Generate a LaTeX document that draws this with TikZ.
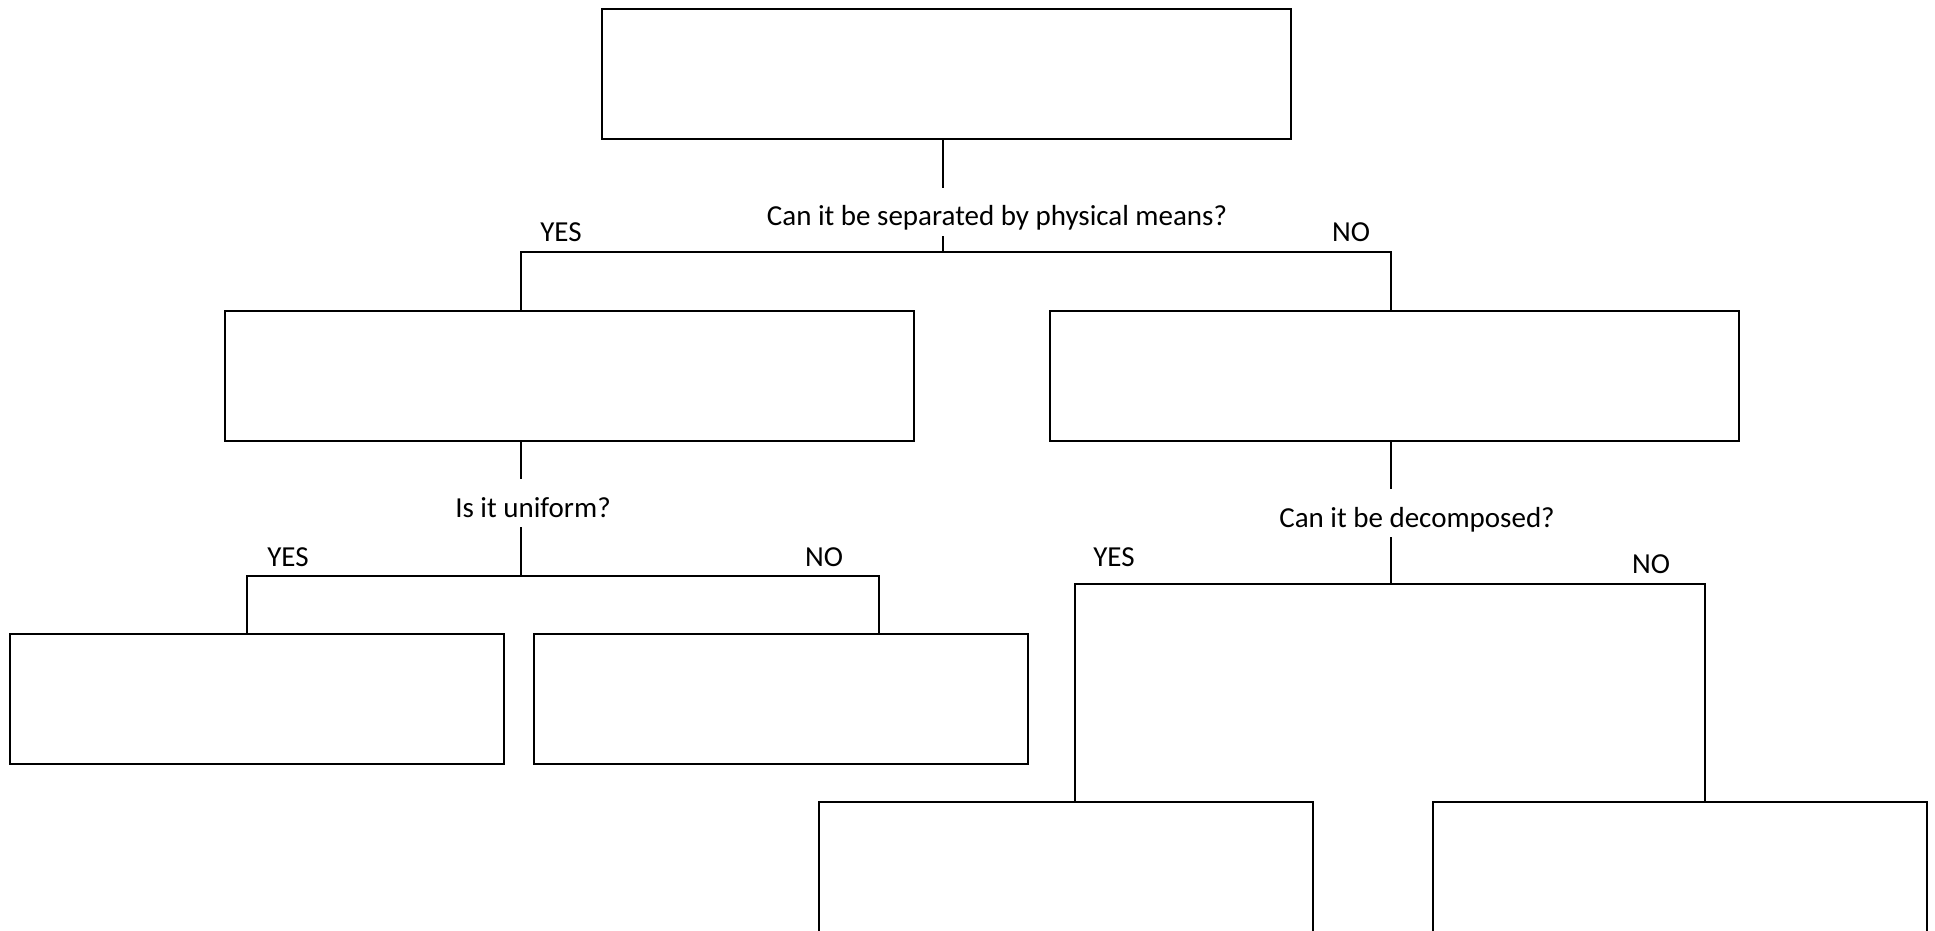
\documentclass[tikz,border=0pt]{standalone}
\usepackage{fontspec}
\setmainfont{Carlito}
\usepackage{tikz}
\usetikzlibrary{calc}

\begin{document}
\begin{tikzpicture}[x=0.5pt, y=-0.5pt,
    box/.style={draw, line width=1pt, minimum height=65pt, inner sep=0pt},
    wide/.style={box, minimum width=344.5pt},
    narrow/.style={box, minimum width=247pt},
    question/.style={inner xsep=2pt, inner ysep=5pt, text height=14pt, text depth=0pt,
        font=\fontsize{14.5}{17}\selectfont},
    answer/.style={inner sep=1pt, font=\fontsize{14.5}{17}\selectfont},
    conn/.style={line width=0.75pt}]

    \useasboundingbox (0,0) rectangle (1935,931);

    % Draw the empty boxes
    \node[wide] (top) at (946.5,74.5) {};
    \node[wide] (mixture) at (569.5,376) {};
    \node[wide] (pure) at (1394,376) {};
    \node[narrow] (homog) at (256.5,699) {};
    \node[narrow] (heterog) at (781,699) {};
    \node[narrow, minimum height=75pt] (compound) at (1066,877) {};
    \node[narrow, minimum height=75pt] (element) at (1679.5,877) {};

    % Draw the questions
    \node[question] (q1) at (997,212) {Can it be separated by physical means?};
    \node[question] (q2) at (533,503) {Is it uniform?};
    \node[question] (q3) at (1417,513) {Can it be decomposed?};

    % Draw the answers
    \node[answer] (yes1) at (561,232) {YES};
    \node[answer] (no1) at (1351,232) {NO};
    \node[answer] (yes2) at (288,557) {YES};
    \node[answer] (no2) at (824,557) {NO};
    \node[answer] (yes3) at (1114,557) {YES};
    \node[answer] (no3) at (1651,564) {NO};

    % Branch points
    \coordinate (j1) at (943,252);
    \coordinate (j1y) at (521,252);
    \coordinate (j1n) at (1391,252);
    \coordinate (j2) at (521,576);
    \coordinate (j2y) at (247,576);
    \coordinate (j2n) at (879,576);
    \coordinate (j3) at (1391,584);
    \coordinate (j3y) at (1075,584);
    \coordinate (j3n) at (1705,584);

    % Draw the first split
    \draw[conn] (j1 |- top.south) -- (j1 |- q1.north);
    \draw[conn] (j1 |- q1.south) -- (j1);
    \draw[conn] (j1y |- mixture.north) -- (j1y) -- (j1n) -- (j1n |- pure.north);

    % Draw the split under the mixture box
    \draw[conn] (j2 |- mixture.south) -- (j2 |- q2.north);
    \draw[conn] (j2 |- q2.south) -- (j2);
    \draw[conn] (j2y |- homog.north) -- (j2y) -- (j2n) -- (j2n |- heterog.north);

    % Draw the split under the pure substance box
    \draw[conn] (j3 |- pure.south) -- (j3 |- q3.north);
    \draw[conn] (j3 |- q3.south) -- (j3);
    \draw[conn] (j3y |- compound.north) -- (j3y) -- (j3n) -- (j3n |- element.north);

\end{tikzpicture}
\end{document}
